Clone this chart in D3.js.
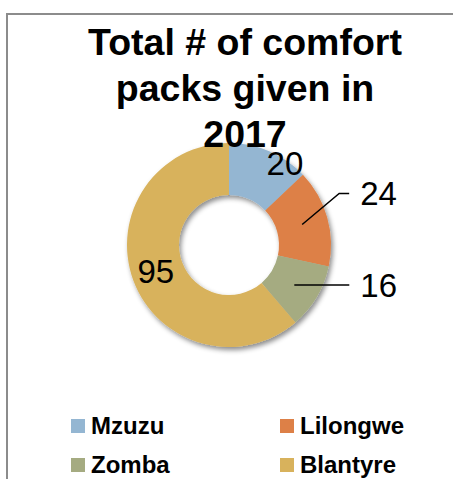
<!DOCTYPE html>
<html>
<head>
<meta charset="utf-8">
<script src="https://cdn.jsdelivr.net/npm/d3@7"></script>
<style>
  body { margin: 0; background: #fff; }
  svg { display: block; font-family: "Liberation Sans", Arial, sans-serif; }
</style>
</head>
<body>
<svg width="453" height="479"></svg>
<script>
'use strict';

// data
const cities = ["Mzuzu", "Lilongwe", "Zomba", "Blantyre"];
const packs = [20, 24, 16, 95];
const colors = ["#94B6D2", "#DD8047", "#A5AB81", "#D8B25C"];
const titleLines = ["Total # of comfort", "packs given in", "2017"];

// label placement relative to slice centroid (layout only)
const labelShift = [[26, -12], [58, -31], [66, 1], [-2, 0]];
const hasLeader = [false, true, true, false];

const width = 453, height = 479;
const cx = 229, cy = 245;
const rOuter = 102, rInner = 50;

let svg = d3.select("svg")
  .attr("viewBox", [0, 0, width, height]);

let defs = svg.append("defs");
defs.append("filter")
    .attr("id", "shadow")
    .attr("x", "-20%").attr("y", "-20%")
    .attr("width", "140%").attr("height", "140%")
  .append("feDropShadow")
    .attr("dx", 2).attr("dy", 3)
    .attr("stdDeviation", 2.5)
    .attr("flood-color", "#000")
    .attr("flood-opacity", 0.45);

// chart border (only left and top are inside the frame)
svg.append("path")
  .attr("d", `M7,${height + 5}V14H${width + 5}`)
  .attr("fill", "none")
  .attr("stroke", "#8c8c8c")
  .attr("stroke-width", 2);

let pie = d3.pie().sort(null).value(d => d)
  .startAngle(0).endAngle(2 * Math.PI);
let arcs = pie(packs);

let arc = d3.arc().innerRadius(rInner).outerRadius(rOuter);

let g = svg.append("g")
  .attr("transform", `translate(${cx},${cy})`);

g.append("g")
  .attr("filter", "url(#shadow)")
  .selectAll("path")
  .data(arcs)
  .join("path")
    .attr("d", arc)
    .attr("fill", (d, i) => colors[i]);

// leader lines
g.append("g")
  .attr("stroke", "#000")
  .attr("stroke-width", 1.5)
  .attr("fill", "none")
  .selectAll("polyline")
  .data(arcs.filter((d, i) => hasLeader[i]))
  .join("polyline")
    .attr("points", d => {
      let [x, y] = arc.centroid(d);
      let [sx, sy] = labelShift[d.index];
      let ex = x + sx - 11, ey = y + sy;
      let kx = ex - 10;
      if (Math.abs(sy) < 4) return [[x, ey], [ex, ey]];
      return [[x, y], [kx, ey], [ex, ey]];
    });

// value labels
g.append("g")
  .attr("font-size", 33)
  .attr("fill", "#000")
  .selectAll("text")
  .data(arcs)
  .join("text")
    .attr("x", d => arc.centroid(d)[0] + labelShift[d.index][0])
    .attr("y", d => arc.centroid(d)[1] + labelShift[d.index][1])
    .attr("dy", "0.36em")
    .attr("text-anchor", d => hasLeader[d.index] ? "start" : "middle")
    .text(d => d.data);

// title
svg.append("g")
  .attr("font-size", 37.5)
  .attr("font-weight", "bold")
  .attr("text-anchor", "middle")
  .selectAll("text")
  .data(titleLines)
  .join("text")
    .attr("x", 245)
    .attr("y", (d, i) => 55 + i * 46)
    .text(d => d);

// legend
let legend = svg.append("g")
  .attr("font-size", 24)
  .attr("font-weight", "bold")
  .selectAll("g")
  .data(cities)
  .join("g")
    .attr("transform", (d, i) => `translate(${i % 2 ? 280 : 71},${i < 2 ? 419 : 458})`);

legend.append("rect")
  .attr("width", 14).attr("height", 14)
  .attr("fill", (d, i) => colors[i]);

legend.append("text")
  .attr("x", 20)
  .attr("y", 14.5)
  .text(d => d);
</script>
</body>
</html>
